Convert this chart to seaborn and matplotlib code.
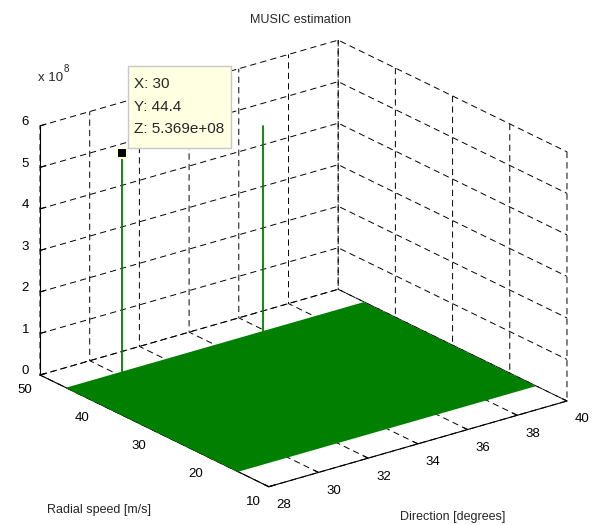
import numpy as np
import matplotlib
matplotlib.use("Agg")
import matplotlib.pyplot as plt
import seaborn as sns
from mpl_toolkits.mplot3d import proj3d
from matplotlib.patches import Rectangle
from matplotlib.ticker import FuncFormatter

# ---------------- data ----------------
direction_ticks = [28, 30, 32, 34, 36, 38, 40]
speed_ticks = [10, 20, 30, 40, 50]
power_ticks = [0, 1e8, 2e8, 3e8, 4e8, 5e8, 6e8]
surface_direction = [28.0, 40.0]     # extent of the spectrum grid (degrees)
surface_speed = [15.5, 45.6]         # extent of the spectrum grid (m/s)
surface_floor = 0.0
peak_direction = [30.0, 35.7]
peak_speed = [44.4, 44.4]
peak_power = [5.369e8, 5.05e8]
tip_lines = ["X: 30", "Y: 44.4", "Z: 5.369e+08"]
title_text = "MUSIC estimation"
xlabel_text = "Direction [degrees]"
ylabel_text = "Radial speed [m/s]"

# ---------------- style ----------------
sns.set_style("white")
plt.rcParams["font.family"] = ["Liberation Sans", "DejaVu Sans"]
plt.rcParams["lines.scale_dashes"] = False
plt.rcParams["grid.color"] = "k"
plt.rcParams["grid.linewidth"] = 0.7
plt.rcParams["grid.linestyle"] = (0, (4.5, 3.0))
plt.rcParams["axes.edgecolor"] = "k"
plt.rcParams["axes.linewidth"] = 0.8

GREEN = "#007f00"
W, H = 600, 525
fig = plt.figure(figsize=(W / 100, H / 100), dpi=100)
fig.patch.set_facecolor("white")
S0 = 400
ax = fig.add_axes([100 / W, 60 / H, S0 / W, S0 / H], projection="3d",
                  computed_zorder=False)
ax.set_proj_type("ortho")
ax.view_init(elev=22, azim=-127.5)
ax.set_box_aspect((1, 1, 0.715))

dd, ss = np.meshgrid(np.linspace(surface_direction[0], surface_direction[1], 2),
                     np.linspace(surface_speed[0], surface_speed[1], 2))
zz = np.full_like(dd, surface_floor)
ax.plot_surface(dd, ss, zz, color=GREEN, shade=False, linewidth=0,
                antialiased=False, zorder=1)

for xd, ys, zp in zip(peak_direction, peak_speed, peak_power):
    ax.plot([xd, xd], [ys, ys], [surface_floor, zp], color=GREEN, lw=1.3,
            zorder=2)
ax.plot([peak_direction[0]], [peak_speed[0]], [peak_power[0]], marker="s",
        ms=7, mfc="k", mec="#FFFFE1", mew=1.5, ls="none", zorder=3)

ax.set_xlim(28, 40)
ax.set_ylim(10, 50)
ax.set_zlim(0, 6e8)
ax.set_xticks(direction_ticks)
ax.set_yticks(speed_ticks)
ax.set_zticks(power_ticks)
ax.zaxis.set_major_formatter(FuncFormatter(lambda v, p: f"{v / 1e8:g}"))
ax.set_xlabel("")
ax.set_ylabel("")
ax.set_zlabel("")
for axis in (ax.xaxis, ax.yaxis, ax.zaxis):
    axis.set_pane_color((1, 1, 1, 0))
    axis._axinfo["grid"].update(color="k", linewidth=0.7,
                                linestyle=(0, (4.5, 3.0)))
    axis._axinfo["tick"].update(inward_factor=0.0, outward_factor=0.25)
    axis._axinfo["axisline"].update(color="k", linewidth=0.8)
    axis.line.set_color("k")
ax.grid(True)
ax.tick_params(labelsize=9.5, colors="k", pad=-2)
ax.xaxis.set_tick_params(pad=-0.5)

# tick label alignment to mimic the MATLAB placement
for t in ax.xaxis.get_major_ticks():
    t.label1.set_horizontalalignment("left")
for t in ax.yaxis.get_major_ticks():
    t.label1.set_horizontalalignment("right")
for t in ax.zaxis.get_major_ticks():
    t.label1.set_verticalalignment("baseline")

# ------------ fit the box to the target layout ------------
fig.canvas.draw()


def to_px(x, y, z):
    X, Y, _ = proj3d.proj_transform(x, y, z, ax.get_proj())
    return np.array(ax.transData.transform((X, Y)))


pos = ax.get_position()
L0, B0, Sw = pos.x0 * W, pos.y0 * H, pos.width * W
uA = (to_px(28, 50, 0) - [L0, B0]) / Sw
uB = (to_px(40, 10, 0) - [L0, B0]) / Sw
uC = (to_px(28, 50, 6e8) - [L0, B0]) / Sw
tA = np.array([40, H - 375])
tB = np.array([567, H - 402])
tC = np.array([40, H - 126])
dU = np.concatenate([uB - uA, uC - uA])
dT = np.concatenate([tB - tA, tC - tA])
S = float(dU @ dT / (dU @ dU))
L = tA[0] - S * uA[0]
Bt = tA[1] - S * uA[1]
ax.set_position([L / W, Bt / H, S / W, S / H])

# ---------------- texts ----------------
fig.text(301 / W, 1 - 20 / H, title_text, ha="center", va="center",
         fontsize=9)
fig.text(38 / W, 1 - 78 / H, "x 10", ha="left", va="center", fontsize=9.5)
fig.text(64 / W, 1 - 69 / H, "8", ha="left", va="center", fontsize=7)
fig.text(47 / W, 1 - 510 / H, ylabel_text, ha="left", va="center",
         fontsize=9)
fig.text(400 / W, 1 - 517 / H, xlabel_text, ha="left", va="center",
         fontsize=9)

# data tip
fig.add_artist(Rectangle((128 / W, 1 - 148 / H), 103 / W, 82 / H,
                         transform=fig.transFigure, facecolor="#FFFFE1",
                         edgecolor="#c8c8c8", lw=1, zorder=10))
for t, yc in zip(tip_lines, [84, 107, 129]):
    fig.text(134 / W, 1 - yc / H, t, ha="left", va="center", fontsize=11,
             zorder=11)

fig.savefig("out.png", dpi=100)
